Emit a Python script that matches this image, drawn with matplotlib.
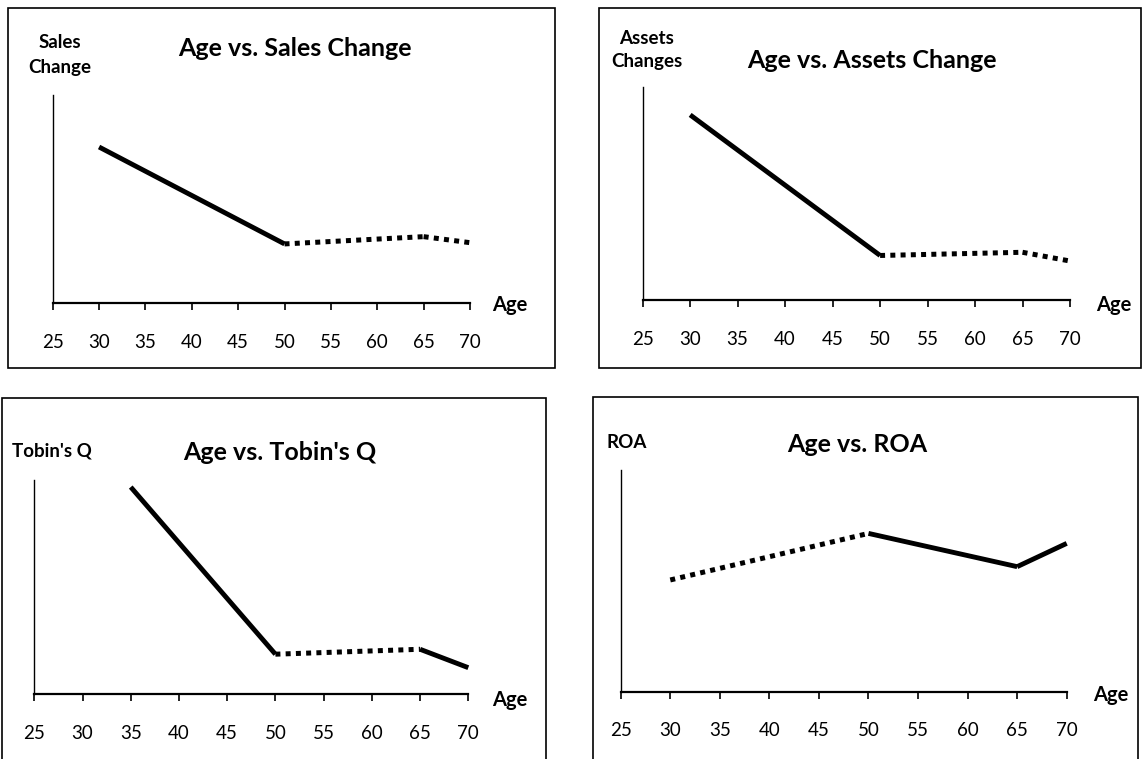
import matplotlib
matplotlib.use("Agg")
import matplotlib.pyplot as plt
from matplotlib.patches import Rectangle

plt.rcParams['font.family'] = ['Lato', 'DejaVu Sans']

W, H = 1145, 759

# x axis categories
age_ticks = [25, 30, 35, 40, 45, 50, 55, 60, 65, 70]

# values (no scale on the y axes, so 0..1 of axis height)
sales_age = [30, 50, 65, 70]
sales_val = [0.75, 0.284, 0.319, 0.29]
sales_style = ['solid', 'dotted', 'dotted']

assets_age = [30, 50, 65, 70]
assets_val = [0.869, 0.209, 0.224, 0.183]
assets_style = ['solid', 'dotted', 'dotted']

tobin_age = [35, 50, 65, 70]
tobin_val = [0.967, 0.186, 0.209, 0.123]
tobin_style = ['solid', 'dotted', 'solid']

roa_age = [30, 50, 65, 70]
roa_val = [0.504, 0.714, 0.564, 0.669]
roa_style = ['dotted', 'solid', 'solid']


def fx(x):
    return x / W


def fy(y):
    return 1 - y / H


def make_panel(fig, box, border, ages, vals, styles, title, title_xy, ylab, ylab_xy, age_xy):
    # box/border are pixel coords (x0, y0, x1, y1), y measured from top
    x0, y0, x1, y1 = box
    ax = fig.add_axes([fx(x0), fy(y1), fx(x1) - fx(x0), fy(y0) - fy(y1)])
    ax.set_xlim(25, 70)
    ax.set_ylim(0, 1)

    for i in range(len(ages) - 1):
        if styles[i] == 'solid':
            ax.plot(ages[i:i + 2], vals[i:i + 2], color='black', lw=3.5,
                    solid_capstyle='butt', solid_joinstyle='miter', clip_on=False)
        else:
            ax.plot(ages[i:i + 2], vals[i:i + 2], color='black', lw=3.6,
                    linestyle=(0, (1.0, 1.05)), dash_capstyle='butt', clip_on=False)

    for s in ['top', 'right']:
        ax.spines[s].set_visible(False)
    ax.spines['left'].set_linewidth(1.0)
    ax.spines['bottom'].set_linewidth(1.6)
    ax.set_yticks([])
    ax.set_xticks(age_ticks)
    ax.set_xticklabels([str(a) for a in age_ticks])
    ax.tick_params(axis='x', direction='out', length=5, width=1.2, pad=17, labelsize=13.5)
    ax.patch.set_alpha(0)

    fig.text(fx(title_xy[0]), fy(title_xy[1]), title, ha='center', va='center',
             fontsize=18, fontweight='bold')
    fig.text(fx(ylab_xy[0]), fy(ylab_xy[1]), ylab, ha='center', va='center',
             fontsize=13.5, fontweight='bold', linespacing=1.5)
    fig.text(fx(age_xy[0]), fy(age_xy[1]), 'Age', ha='left', va='center',
             fontsize=14.5, fontweight='bold')

    bx0, by0, bx1, by1 = border
    fig.patches.append(Rectangle((fx(bx0), fy(by1)), fx(bx1) - fx(bx0), fy(by0) - fy(by1),
                                 transform=fig.transFigure, fill=False, edgecolor='black', lw=1.2))
    return ax


fig = plt.figure(figsize=(W / 100, H / 100), dpi=100)

make_panel(fig, (52.7, 95, 470, 303), (8, 8, 555, 368),
           sales_age, sales_val, sales_style,
           'Age vs. Sales Change', (295, 48), 'Sales\nChange', (60, 55), (492, 305))

make_panel(fig, (642.7, 87, 1070, 300), (599, 8, 1141, 368),
           assets_age, assets_val, assets_style,
           'Age vs. Assets Change', (872, 60), 'Assets\nChanges', (647, 50), (1096, 305))

make_panel(fig, (34.3, 480, 468.3, 694), (2, 398, 546, 770),
           tobin_age, tobin_val, tobin_style,
           "Age vs. Tobin's Q", (280, 452), "Tobin's Q", (52, 451), (492, 700))

make_panel(fig, (620.7, 470, 1066.7, 691.7), (593, 397, 1138, 770),
           roa_age, roa_val, roa_style,
           'Age vs. ROA', (857, 445), 'ROA', (627, 442), (1093, 695))

fig.savefig('out.png', dpi=100)
